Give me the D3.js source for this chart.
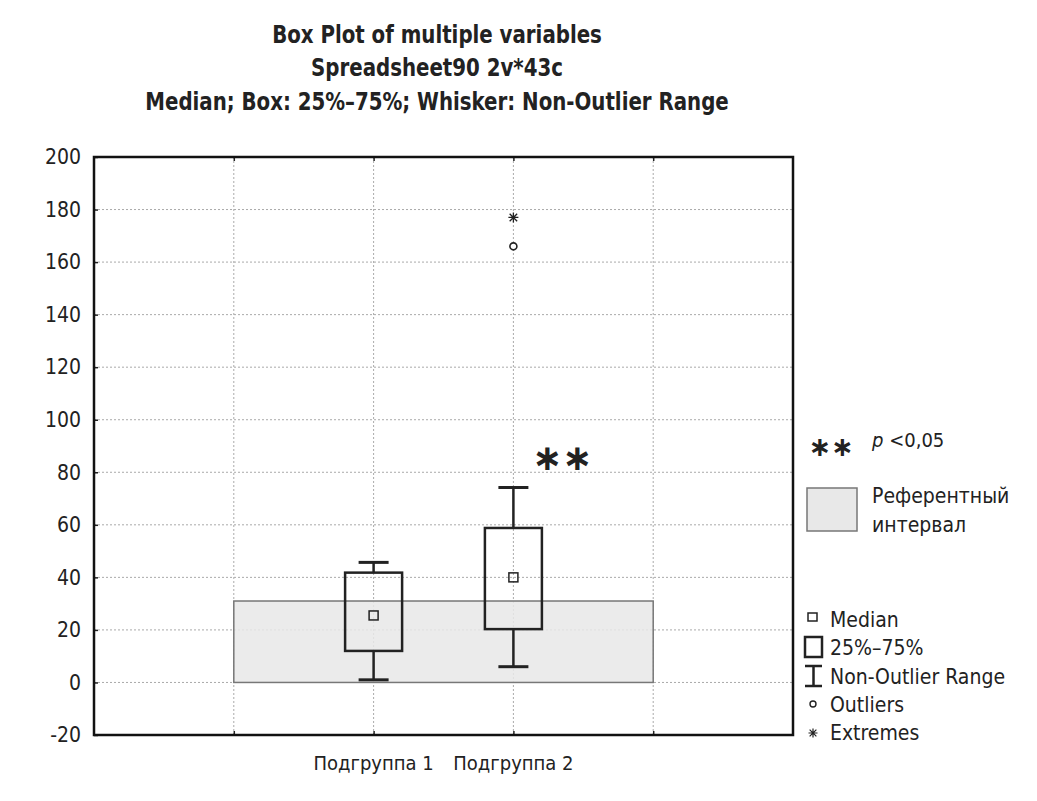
<!DOCTYPE html>
<html>
<head>
<meta charset="utf-8">
<script src="https://cdn.jsdelivr.net/npm/d3@7"></script>
<style>
    body { margin: 0; background: #fff; }
    svg text { font-family: "DejaVu Sans Condensed", "Liberation Sans Narrow", Arial, sans-serif; fill: #222; }
    .title { font-weight: bold; font-size: 25px; }
    .grid-line { stroke: #aaa; stroke-width: 1; stroke-dasharray: 2,2; }
</style>
</head>
<body>
<div id="chart"></div>
<script>
const categories = ["Подгруппа 1", "Подгруппа 2"];
const catPositions = [2, 3];
const medians = [25.5, 40];
const q1 = [12, 20.3];
const q3 = [41.8, 58.8];
const whiskerLow = [1, 6];
const whiskerHigh = [45.7, 74.2];
const outliers = [[], [166]];
const extremes = [[], [177]];
const refInterval = [0, 31];
const refSpan = [1, 4];
const yTicks = [-20, 0, 20, 40, 60, 80, 100, 120, 140, 160, 180, 200];
const xGrid = [1, 2, 3, 4];
const titleLines = [
    "Box Plot of multiple variables",
    "Spreadsheet90 2v*43c",
    "Median; Box: 25%–75%; Whisker: Non-Outlier Range"
];

const W = 1037, H = 801;
const margin = { top: 157, right: 244, bottom: 66, left: 94 };
const width = W - margin.left - margin.right;
const height = H - margin.top - margin.bottom;

const svg = d3.select("#chart").append("svg")
    .attr("width", W)
    .attr("height", H);

// title is squeezed a bit to look like the condensed face of the original
svg.append("g")
    .attr("transform", "translate(437,0) scale(0.88,1)")
    .selectAll(".title")
    .data(titleLines)
    .enter()
    .append("text")
    .attr("class", "title")
    .attr("x", 0)
    .attr("y", (d, i) => 43 + i * 33.5)
    .attr("text-anchor", "middle")
    .text(d => d);

const g = svg.append("g").attr("transform", `translate(${margin.left},${margin.top})`);

const x = d3.scaleLinear().domain([0, 5]).range([0, width]);
const y = d3.scaleLinear().domain([-20, 200]).range([height, 0]);

// grid
g.selectAll(".y-grid")
    .data(yTicks.filter(d => d > -20 && d < 200))
    .enter()
    .append("line")
    .attr("class", "grid-line")
    .attr("x1", 0).attr("x2", width)
    .attr("y1", d => y(d)).attr("y2", d => y(d));

g.selectAll(".x-grid")
    .data(xGrid)
    .enter()
    .append("line")
    .attr("class", "grid-line")
    .attr("x1", d => x(d)).attr("x2", d => x(d))
    .attr("y1", 0).attr("y2", height);

// reference interval
g.append("rect")
    .attr("x", x(refSpan[0]))
    .attr("width", x(refSpan[1]) - x(refSpan[0]))
    .attr("y", y(refInterval[1]))
    .attr("height", y(refInterval[0]) - y(refInterval[1]))
    .attr("fill", "#e8e8e8")
    .attr("fill-opacity", 0.85)
    .attr("stroke", "#777")
    .attr("stroke-width", 1.5);

// axes
const yAxis = g.append("g")
    .call(d3.axisLeft(y).tickValues(yTicks).tickSize(-4).tickPadding(13).tickFormat(d => String(d)));
yAxis.select(".domain").remove();
yAxis.selectAll("line").attr("stroke", "#222").attr("stroke-width", 1.5);
yAxis.selectAll("text").style("font-size", "21px").attr("fill", "#222");

const xAxis = g.append("g")
    .attr("transform", `translate(0,${height})`)
    .call(d3.axisBottom(x).tickValues(xGrid).tickSize(-4).tickFormat(""));
xAxis.select(".domain").remove();
xAxis.selectAll("line").attr("stroke", "#222").attr("stroke-width", 1.5);

const xTop = g.append("g")
    .call(d3.axisTop(x).tickValues(xGrid).tickSize(-4).tickFormat(""));
xTop.select(".domain").remove();
xTop.selectAll("line").attr("stroke", "#222").attr("stroke-width", 1.5);

g.selectAll(".cat-label")
    .data(categories)
    .enter()
    .append("text")
    .attr("x", (d, i) => x(catPositions[i]))
    .attr("y", height + 35)
    .attr("text-anchor", "middle")
    .style("font-size", "20px")
    .text(d => d);

// boxes
const boxW = 57, capW = 30;
categories.forEach((c, i) => {
    const cx = x(catPositions[i]);
    const bg = g.append("g").attr("stroke", "#222").attr("stroke-width", 2.5).attr("fill", "none");
    bg.append("line").attr("x1", cx).attr("x2", cx).attr("y1", y(q3[i])).attr("y2", y(whiskerHigh[i]));
    bg.append("line").attr("x1", cx).attr("x2", cx).attr("y1", y(q1[i])).attr("y2", y(whiskerLow[i]));
    bg.append("line").attr("x1", cx - capW / 2).attr("x2", cx + capW / 2)
        .attr("y1", y(whiskerHigh[i])).attr("y2", y(whiskerHigh[i])).attr("stroke-width", 3);
    bg.append("line").attr("x1", cx - capW / 2).attr("x2", cx + capW / 2)
        .attr("y1", y(whiskerLow[i])).attr("y2", y(whiskerLow[i])).attr("stroke-width", 3);
    bg.append("rect")
        .attr("x", cx - boxW / 2).attr("width", boxW)
        .attr("y", y(q3[i])).attr("height", y(q1[i]) - y(q3[i]));
    bg.append("rect")
        .attr("x", cx - 4.5).attr("y", y(medians[i]) - 4.5)
        .attr("width", 9).attr("height", 9).attr("stroke-width", 1.5);

    outliers[i].forEach(v => {
        g.append("circle").attr("cx", cx).attr("cy", y(v)).attr("r", 3.5)
            .attr("fill", "#fff").attr("stroke", "#222").attr("stroke-width", 1.6);
    });
    extremes[i].forEach(v => {
        const s = 5;
        g.append("path")
            .attr("d", `M${cx - s},${y(v)}H${cx + s}M${cx},${y(v) - s}V${y(v) + s}` +
                `M${cx - s * 0.75},${y(v) - s * 0.75}L${cx + s * 0.75},${y(v) + s * 0.75}` +
                `M${cx - s * 0.75},${y(v) + s * 0.75}L${cx + s * 0.75},${y(v) - s * 0.75}`)
            .attr("stroke", "#222").attr("stroke-width", 1.3).attr("fill", "none");
    });
});

// significance mark
g.append("text")
    .attr("x", x(3.35))
    .attr("y", y(81))
    .attr("text-anchor", "middle")
    .style("font-family", "DejaVu Sans")
    .style("font-weight", "bold")
    .style("font-size", "36px")
    .attr("fill", "#111")
    .text("∗∗");

// frame
g.append("rect")
    .attr("width", width).attr("height", height)
    .attr("fill", "none").attr("stroke", "#111").attr("stroke-width", 2.5);

// legend
const lg = svg.append("g");
lg.append("text")
    .attr("x", 831).attr("y", 456)
    .attr("text-anchor", "middle")
    .style("font-family", "DejaVu Sans")
    .style("font-weight", "bold")
    .style("font-size", "27px")
    .attr("fill", "#111")
    .text("∗∗");
lg.append("text")
    .attr("x", 872).attr("y", 447)
    .style("font-size", "20px")
    .html('<tspan font-style="italic">p</tspan> &lt;0,05');

lg.append("rect")
    .attr("x", 807).attr("y", 488).attr("width", 50).attr("height", 43)
    .attr("fill", "#e8e8e8").attr("stroke", "#777").attr("stroke-width", 1.5);
lg.append("text").attr("x", 872).attr("y", 503).style("font-size", "21px").text("Референтный");
lg.append("text").attr("x", 872).attr("y", 532).style("font-size", "21px").text("интервал");

const legendLabels = ["Median", "25%–75%", "Non-Outlier Range", "Outliers", "Extremes"];
const legendY = [619, 647, 676, 704, 732];
lg.selectAll(".leg-label")
    .data(legendLabels)
    .enter()
    .append("text")
    .attr("x", 830)
    .attr("y", (d, i) => legendY[i] + 8)
    .style("font-size", "21px")
    .text(d => d);

const sym = lg.append("g").attr("stroke", "#222").attr("fill", "none");
sym.append("rect").attr("x", 808).attr("y", legendY[0] - 6).attr("width", 9).attr("height", 8).attr("stroke-width", 1.5);
sym.append("rect").attr("x", 805).attr("y", legendY[1] - 10).attr("width", 17).attr("height", 20).attr("stroke-width", 2.5);
sym.append("path")
    .attr("d", `M805,${legendY[2] - 10}H822M813.5,${legendY[2] - 10}V${legendY[2] + 10}M805,${legendY[2] + 10}H822`)
    .attr("stroke-width", 2.5);
sym.append("circle").attr("cx", 813).attr("cy", legendY[3]).attr("r", 3).attr("stroke-width", 1.4);
const es = 4.5, ex = 813, ey = legendY[4] + 1;
sym.append("path")
    .attr("d", `M${ex - es},${ey}H${ex + es}M${ex},${ey - es}V${ey + es}` +
        `M${ex - es * 0.75},${ey - es * 0.75}L${ex + es * 0.75},${ey + es * 0.75}` +
        `M${ex - es * 0.75},${ey + es * 0.75}L${ex + es * 0.75},${ey - es * 0.75}`)
    .attr("stroke-width", 1.2);
</script>
</body>
</html>
